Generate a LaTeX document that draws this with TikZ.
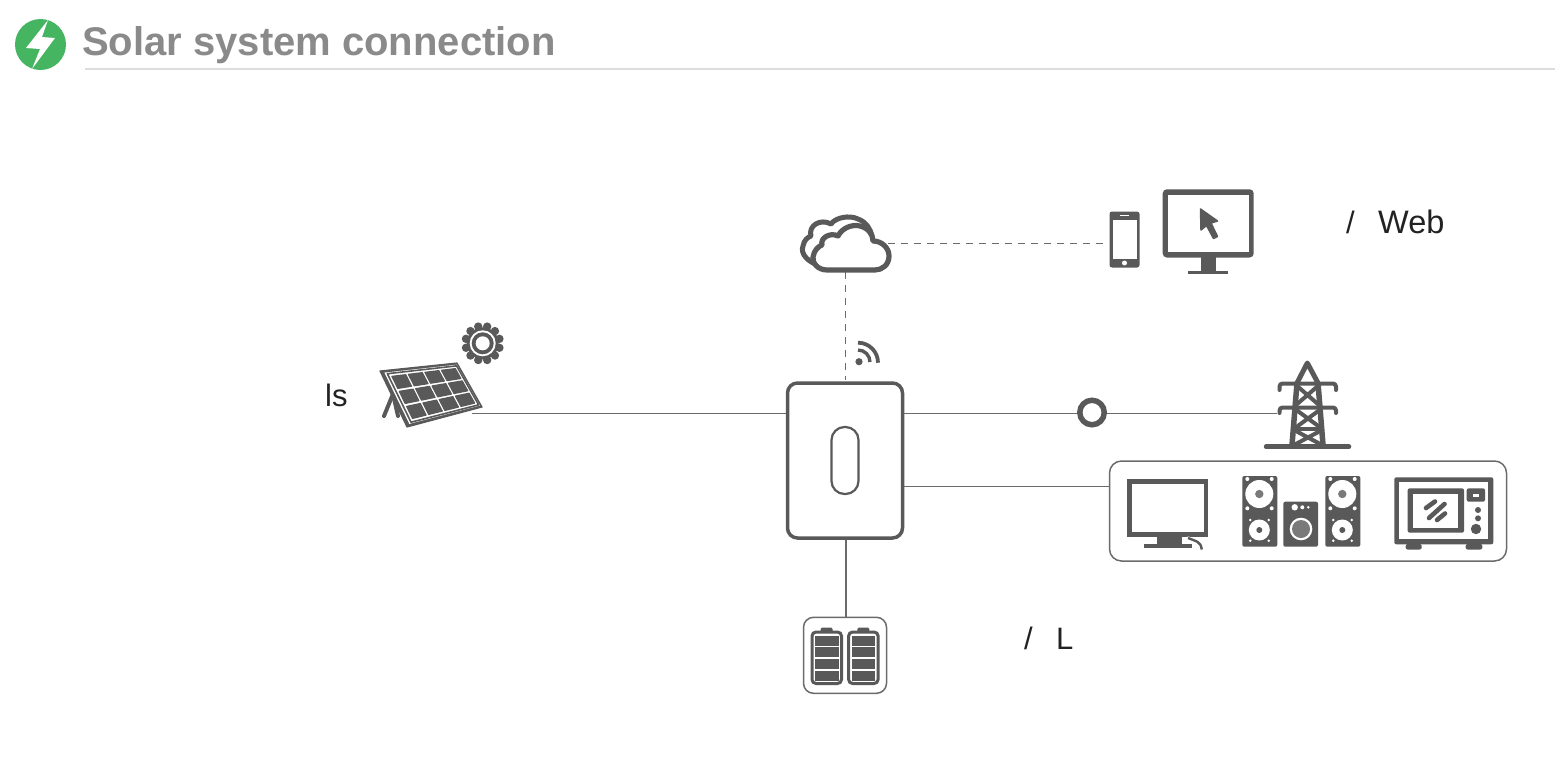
\documentclass[tikz,border=0pt]{standalone}
\usepackage{fontspec}
\setmainfont{Liberation Sans}
\usetikzlibrary{calc}
\definecolor{ic}{HTML}{595959}
\definecolor{ln}{HTML}{6B6B6B}
\definecolor{tt}{HTML}{8A8A8A}
\definecolor{gb}{HTML}{45B561}
\definecolor{rule}{HTML}{DDDDDD}
\definecolor{lbl}{HTML}{222222}
\definecolor{spk}{HTML}{7A7A7A}
\tikzset{
  wire/.style={draw=ln,line width=1.6pt},
  dashwire/.style={draw=ln,line width=1.5pt,dash pattern=on 7pt off 6pt},
  label/.style={text=lbl,font=\fontsize{31}{31}\selectfont,anchor=base west,inner sep=0pt},
  hollow/.style={draw=ln,line width=1.5pt,fill=white,rounded corners=11pt},
  stk/.style={draw=ic,line cap=round,line join=round},
}
\newcommand{\bil}[2]{($($(A)!#1!(B)$)!#2!($(D)!#1!(C)$)$)}
\begin{document}
\begin{tikzpicture}[x=1pt,y=-1pt]
\useasboundingbox (0,0) rectangle (1555,766);
% header
\fill[gb] (40.5,44.5) circle (25.5);
\fill[white] (48,20)--(26,48)--(40,49)--(32,69)--(55,38)--(42,37)--cycle;
\node[anchor=base west,inner sep=0pt,text=tt,font=\bfseries\fontsize{40}{40}\selectfont] (title) at (82,55) {Solar system connection};
\draw[draw=rule,line width=2pt] (85,68.5)--(1555,68.5);

% coordinates
\coordinate (solarEnd) at (472,413.5);
\coordinate (invSolar) at (786,413.5);
\coordinate (invGrid) at (904,413.5);
\coordinate (towerEnd) at (1277,413.5);
\coordinate (invLoad) at (904,486.5);
\coordinate (cloudR) at (888,243.5);
\coordinate (phoneL) at (1108,243.5);
\coordinate (cloudB) at (845.5,272);
\coordinate (invT) at (845.5,380);

% dashed connectors go under the icons
\draw[dashwire] (cloudR)--(phoneL);
\draw[dashwire] (cloudB)--(invT);

% inverter
\node[draw=ic,line width=3.5pt,rounded corners=10pt,minimum width=115pt,minimum height=155pt,inner sep=0pt,fill=white] (inv) at (845,460.5) {};
\node[draw=ic,line width=2.2pt,rounded corners=13pt,minimum width=27pt,minimum height=67pt,inner sep=0pt] (slot) at (845,460.5) {};

\node[draw=ic,line width=5.5pt,circle,minimum size=24.5pt,inner sep=0pt] (meter) at (1092,412.5) {};
\node[hollow,minimum width=397pt,minimum height=100pt,inner sep=0pt,rounded corners=12pt] (load) at (1308,511) {};
\node[hollow,minimum width=83pt,minimum height=76pt,inner sep=0pt,rounded corners=10pt] (bat) at (845,655.3) {};

% connectors
\draw[wire] (solarEnd)--(invSolar);
\draw[wire] (invGrid)--(invGrid-|meter.west);
\draw[wire] (invGrid-|meter.east)--(towerEnd);
\draw[wire] (invLoad)--(invLoad-|load.west);
\draw[wire] (846,540)--(846,617);

% solar panel
\coordinate (A) at (380,371);
\coordinate (B) at (457,363);
\coordinate (C) at (482,407);
\coordinate (D) at (407,427);
\draw[ic,line width=4pt,line cap=round] (393,394)--(384,416);
\draw[ic,line width=4pt,line cap=round] (393,394)--(398,416);
\fill[ic,draw=ic,line width=1.2pt,line join=round] (A)--(B)--(C)--(D)--cycle;
\fill[white] \bil{0.045}{0.035}--\bil{0.985}{0.035}--\bil{0.985}{0.96}--\bil{0.045}{0.96}--cycle;
\draw[ic,line width=1.6pt,line join=round] \bil{0.075}{0.06}--\bil{0.975}{0.06}--\bil{0.975}{0.94}--\bil{0.075}{0.94}--cycle;
\foreach \i in {0,1,2,3}{
 \foreach \j in {0,1,2}{
  \pgfmathsetmacro{\ua}{0.115+\i*0.215}
  \pgfmathsetmacro{\ub}{\ua+0.18}
  \pgfmathsetmacro{\va}{0.115+\j*0.275}
  \pgfmathsetmacro{\vb}{\va+0.22}
  \fill[ic,draw=ic,line width=1.2pt,line join=round]
   \bil{\ua}{\va}--\bil{\ub}{\va}--\bil{\ub}{\vb}--\bil{\ua}{\vb}--cycle;
 }}

% sun
\foreach \a in {0,30,...,330}{\fill[ic] (482.7,343.3)++(\a+15:17.3) circle (4.2);}
\fill[ic] (482.7,343.3) circle (16);
\fill[white] (482.7,343.3) circle (13);
\fill[ic] (482.7,343.3) circle (11);
\fill[white] (482.7,343.3) circle (7);

% cloud
\draw[ic,line width=5pt,fill=white,line join=round]
 (820,266) .. controls (808,262) and (800,254) .. (803,246)
 .. controls (804,240) and (808,237) .. (811,236)
 .. controls (808,226) and (820,218) .. (831,224)
 .. controls (836,217) and (850,215) .. (858,219)
 .. controls (866,222) and (870,228) .. (872,236) -- (860,262) --cycle;
\draw[white,line width=1.2pt] (835,226) .. controls (842,221) and (852,220) .. (860,224);
\draw[ic,line width=5.2pt,fill=white,line join=round]
 (827,270) .. controls (818,270) and (812,263) .. (813,257)
 .. controls (814,250) and (819,246) .. (822,245)
 .. controls (820,238) and (830,232) .. (838,236)
 .. controls (842,228) and (852,224) .. (860,226)
 .. controls (868,228) and (873,234) .. (873,241)
 .. controls (882,241) and (889,248) .. (889,256)
 .. controls (889,265) and (882,270) .. (875,270) -- cycle;

% wifi
\fill[ic] (859,361.7) circle (3.6);
\draw[ic,line width=3.4pt] (858,350) arc (-90:0:12);
\draw[ic,line width=3.8pt] (858,342.7) arc (-90:0:20);

% phone
\fill[ic,rounded corners=2.5pt] (1109.5,211.5) rectangle (1139.5,267.5);
\fill[white] (1112.5,220) rectangle (1137,258.5);
\fill[white] (1124.5,263) circle (2.5);
\fill[white] (1120,215) rectangle (1129,216.2);

% monitor
\fill[ic,rounded corners=4pt] (1162.7,189.3) rectangle (1253.7,257.5);
\fill[white] (1168,195) rectangle (1248.5,252);
\fill[ic] (1201,257) rectangle (1215.7,272);
\fill[ic] (1188,271) rectangle (1228,274);
\fill[ic,draw=ic,line width=1.5pt,line join=round] (1200.5,209)--(1217.5,221)--(1211,223)--(1217.5,236.5)--(1213.5,238.5)--(1206.5,225.5)--(1201,230)--cycle;

% tower
\draw[stk,line width=5pt] (1297,383)--(1307.3,363)--(1318,383);
\draw[stk,line width=5.5pt,line cap=butt] (1297,383)--(1292,445);
\draw[stk,line width=5.5pt,line cap=butt] (1318,383)--(1323,445);
\draw[stk,line width=4pt] (1279.5,390) -- (1279.5,386.5) arc (180:270:3) -- (1333,383.5) arc (-90:0:3) -- (1336,390);
\draw[stk,line width=4pt] (1279.5,413) -- (1279.5,410.5) arc (180:270:3) -- (1333,407.5) arc (-90:0:3) -- (1336,413);
\draw[ic,line width=4pt] (1296,385)--(1319,405) (1319,385)--(1296,405);
\draw[ic,line width=4pt] (1295,409)--(1321,428) (1321,409)--(1295,428);
\draw[ic,line width=4pt] (1293,429)--(1321,429);
\draw[ic,line width=4pt] (1294,430)--(1322,445) (1322,430)--(1294,445);
\draw[stk,line width=4.5pt] (1266,446.7)--(1349,446.7);

% tv
\fill[ic] (1127.3,479) rectangle (1208.3,537.3);
\fill[white] (1131.7,484) rectangle (1204.3,532.3);
\fill[ic] (1156.7,537) rectangle (1181.7,544);
\fill[ic] (1144,544) rectangle (1192.3,547.7);
\draw[white,line width=4.5pt] (1187,538.5) .. controls (1195,541) and (1201,541) .. (1201.7,550);
\draw[ic,line width=2.4pt] (1188,538) .. controls (1195,541) and (1201,541) .. (1201.7,549.5);

% speakers
\foreach \dx in {0,83}{
 \begin{scope}[xshift=\dx pt]
 \fill[ic,rounded corners=2pt] (1242.3,476) rectangle (1277.3,546.7);
 \fill[white] (1259.3,494) circle (14);
 \fill[spk] (1259.3,494) circle (4.2);
 \fill[white] (1259.3,530) circle (10.5);
 \fill[ic] (1259.3,530) circle (3);
 \foreach \x/\y in {1247.3/479,1271.7/479,1247.3/508.3,1271.7/508.3}{\fill[white] (\x,\y) circle (2);}
 \foreach \x/\y in {1250.3/520,1268.7/520,1250.3/540.7,1268.7/540.7}{\fill[white] (\x,\y) circle (1.4);}
 \end{scope}}
\fill[ic,rounded corners=2pt] (1283.3,501.7) rectangle (1318,546.7);
\fill[white] (1294.7,507.3) circle (3.2);
\fill[white] (1302.3,507.3) circle (2);
\fill[white] (1308.3,507.3) circle (1.4);
\fill[white] (1301,529) circle (11.3);
\fill[spk] (1301,529) circle (9);

% microwave
\fill[ic,rounded corners=2pt] (1394.3,477.3) rectangle (1493.3,544.3);
\fill[white] (1399.3,482.3) rectangle (1488.3,539.3);
\fill[ic,rounded corners=2pt] (1405.7,544) rectangle (1421.7,549.5);
\fill[ic,rounded corners=2pt] (1465.7,544) rectangle (1482.3,549.5);
\fill[ic,rounded corners=2pt] (1407.7,488.3) rectangle (1464,532.7);
\fill[white] (1413.3,494) rectangle (1458.3,527.7);
\draw[stk,line width=4.6pt] (1426,508)--(1435,501.5);
\draw[stk,line width=4.6pt] (1429,518)--(1444.5,504);
\draw[stk,line width=4.6pt] (1437,520)--(1445,513.5);
\fill[ic,rounded corners=2pt] (1466.7,488.3) rectangle (1485,501.7);
\fill[white] (1473.3,494.3) rectangle (1479.3,496.5);
\fill[ic] (1478,510) circle (3);
\fill[ic] (1478,518.3) circle (3);
\fill[ic] (1476,529) circle (5.2);

% batteries
\foreach \dx in {0,36.6}{
 \begin{scope}[xshift=\dx pt]
 \fill[ic,rounded corners=1.5pt] (820.7,627.5) rectangle (832.7,633);
 \draw[ic,line width=3pt,fill=white,rounded corners=4pt] (812,632) rectangle (841.5,683.5);
 \foreach \a/\b in {635.5/645.7,647.3/657.3,659/669,670.7/680.5}{\fill[ic] (815,\a) rectangle (838.5,\b);}
 \end{scope}}

% labels
\node[label] (lblA) at (325,406) {ls};
\node[label] (lblB) at (1346,233) {/};
\node[label,font=\fontsize{32.5}{32.5}\selectfont] (lblC) at (1378,233) {Web};
\node[label] (lblD) at (1024,649) {/};
\node[label] (lblE) at (1056,649) {L};
\end{tikzpicture}
\end{document}
